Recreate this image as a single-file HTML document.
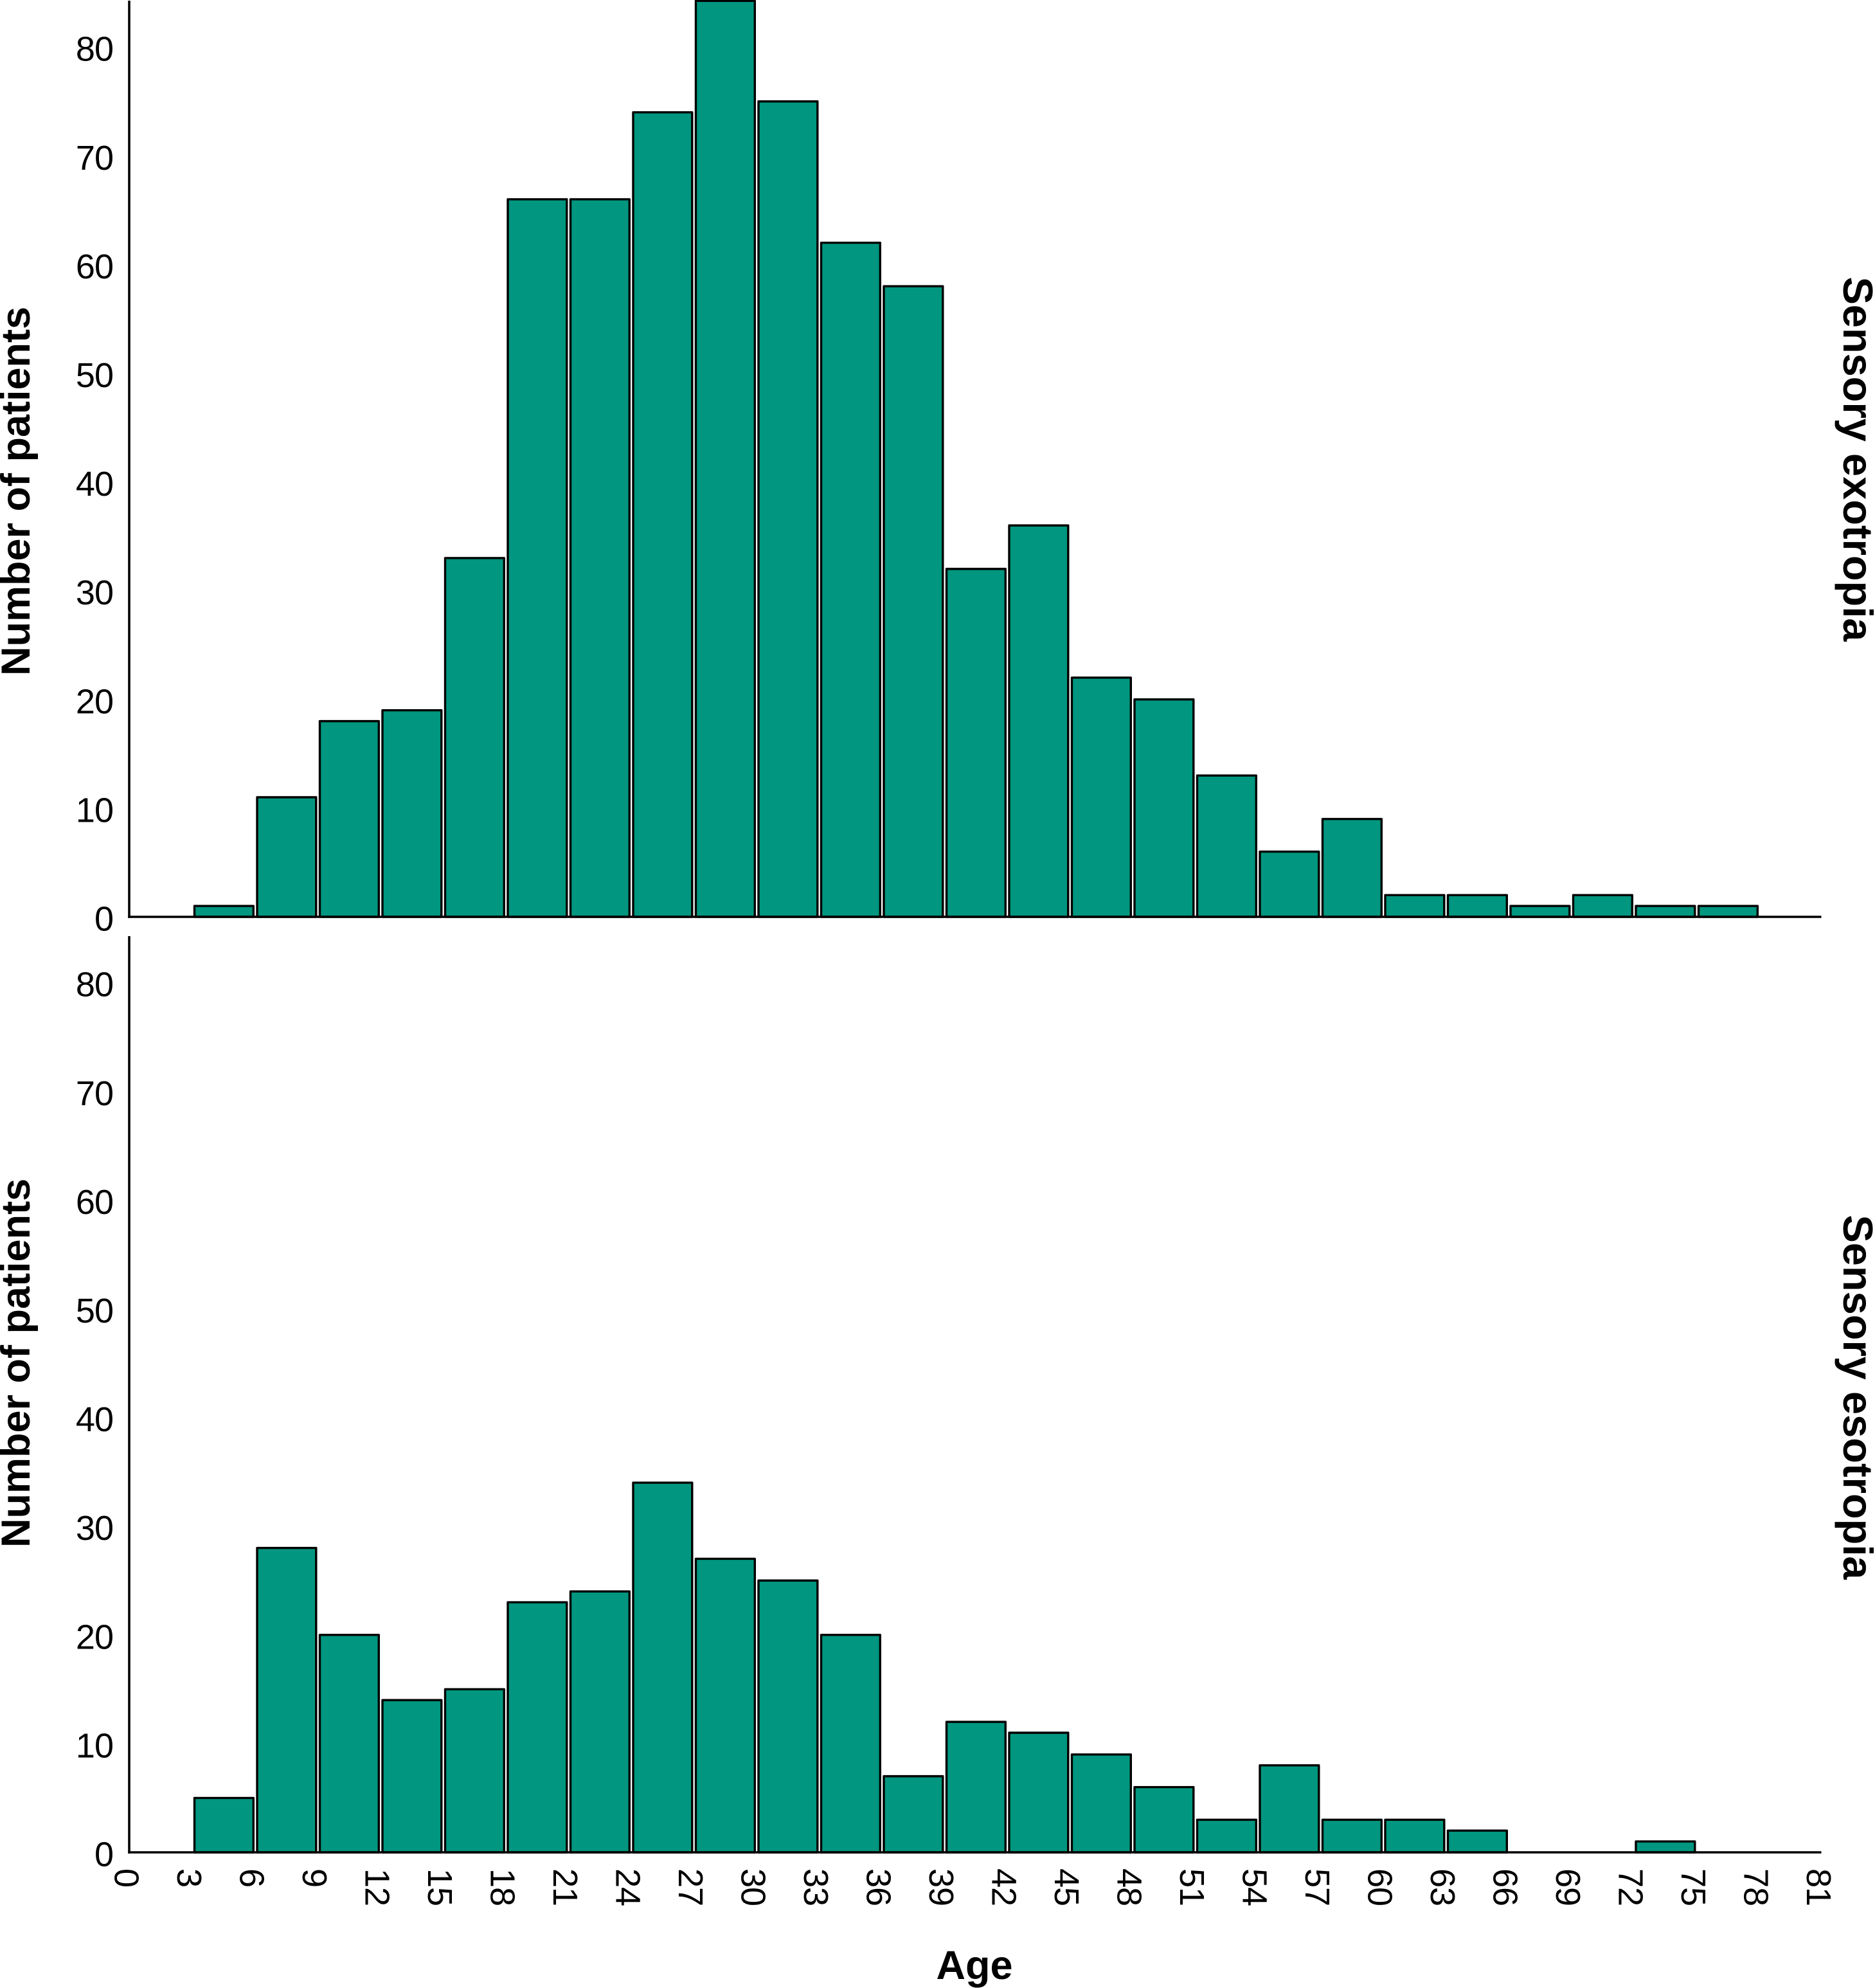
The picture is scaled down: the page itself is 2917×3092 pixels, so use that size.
<!DOCTYPE html>
<html lang="en">
<head>
<meta charset="utf-8">
<title>Age distribution of sensory exotropia and esotropia</title>
<style>
html,body{margin:0;padding:0;background:#fff;}
svg{display:block;}
text{font-family:"Liberation Sans",Arial,sans-serif;fill:#000;}
.tick{font-size:54px;letter-spacing:-1px;}
.title{font-size:63px;font-weight:bold;}
</style>
</head>
<body>
<svg id="chart" xmlns="http://www.w3.org/2000/svg" width="2917" height="3092" viewBox="0 0 2917 3092">
  <rect x="0" y="0" width="2917" height="3092" fill="#ffffff"/>
  <g id="top-bars"></g>
  <g id="bottom-bars"></g>
  <g id="axes"></g>
  <g id="labels"></g>
  <text class="title" transform="translate(46,764) rotate(-90)" text-anchor="middle">Number of patients</text>
  <text class="title" transform="translate(46,2120) rotate(-90)" text-anchor="middle">Number of patients</text>
  <text class="title" style="font-size:65px" transform="translate(2868,714) rotate(90)" text-anchor="middle">Sensory exotropia</text>
  <text class="title" style="font-size:65px" transform="translate(2868,2173) rotate(90)" text-anchor="middle">Sensory esotropia</text>
  <text class="title" x="1516" y="3078" text-anchor="middle">Age</text>
</svg>
<script>
const binStarts = [3,6,9,12,15,18,21,24,27,30,33,36,39,42,45,48,51,54,57,60,63,66,69,72,75];
const exotropiaCounts = [1,11,18,19,33,66,66,74,84.25,75,62,58,32,36,22,20,13,6,9,2,2,1,2,1,1];
const esotropiaCounts = [5,28,20,14,15,23,24,34,27,25,20,7,12,11,9,6,3,8,3,3,2,0,0,1,0];
const yTicks = [0,10,20,30,40,50,60,70,80];
const xTicks = [0,3,6,9,12,15,18,21,24,27,30,33,36,39,42,45,48,51,54,57,60,63,66,69,72,75,78,81];
const binWidth = 3;

const NS = 'http://www.w3.org/2000/svg';
const X0 = 201, PX_PER_AGE = 32.5, PX_PER_COUNT = 16.91;
const FILL = '#00967f';
const xScale = function (age) { return X0 + age * PX_PER_AGE; };
const yScale = function (count, base) { return base - count * PX_PER_COUNT; };

const TOP_BASE = 1426, BOTTOM_BASE = 2881;

function drawBars(groupId, counts, base, prefix) {
  const g = document.getElementById(groupId);
  counts.forEach(function (c, i) {
    if (c <= 0) return;
    const left = xScale(binStarts[i]) + 4;
    const right = xScale(binStarts[i] + binWidth) - 1.7;
    const top = yScale(c, base);
    const r = document.createElementNS(NS, 'rect');
    r.setAttribute('x', left);
    r.setAttribute('y', top);
    r.setAttribute('width', right - left);
    r.setAttribute('height', base - top);
    r.setAttribute('fill', FILL);
    r.setAttribute('stroke', '#000');
    r.setAttribute('stroke-width', '3.4');
    r.setAttribute('stroke-linejoin', 'round');
    
    
    g.appendChild(r);
  });
}
drawBars('top-bars', exotropiaCounts, TOP_BASE, 'exotropia');
drawBars('bottom-bars', esotropiaCounts, BOTTOM_BASE, 'esotropia');

function drawLine(x1, y1, x2, y2, name) {
  const l = document.createElementNS(NS, 'line');
  l.setAttribute('x1', x1);
  l.setAttribute('y1', y1);
  l.setAttribute('x2', x2);
  l.setAttribute('y2', y2);
  l.setAttribute('stroke', '#000');
  l.setAttribute('stroke-width', '3.6');
  
  
  document.getElementById('axes').appendChild(l);
}
const xEnd = xScale(xTicks[xTicks.length - 1]);
drawLine(X0, 1, X0, TOP_BASE + 1.8, 'y-axis-top');
drawLine(X0 - 1.8, TOP_BASE, xEnd, TOP_BASE, 'x-axis-top');
drawLine(X0, 1456, X0, BOTTOM_BASE + 1.8, 'y-axis-bottom');
drawLine(X0 - 1.8, BOTTOM_BASE, xEnd, BOTTOM_BASE, 'x-axis-bottom');

const labels = document.getElementById('labels');
[TOP_BASE, BOTTOM_BASE].forEach(function (base, p) {
  yTicks.forEach(function (v) {
    const t = document.createElementNS(NS, 'text');
    t.setAttribute('class', 'tick');
    t.setAttribute('x', 176);
    t.setAttribute('y', yScale(v, base) + 21.5);
    t.setAttribute('text-anchor', 'end');
    
    
    t.textContent = String(v);
    labels.appendChild(t);
  });
});
xTicks.forEach(function (v) {
  const t = document.createElementNS(NS, 'text');
  t.setAttribute('class', 'tick');
  t.setAttribute('transform', 'translate(' + (xScale(v) - 22.5) + ',2906) rotate(90)');
  
  
  t.textContent = String(v);
  labels.appendChild(t);
});
</script>
</body>
</html>
